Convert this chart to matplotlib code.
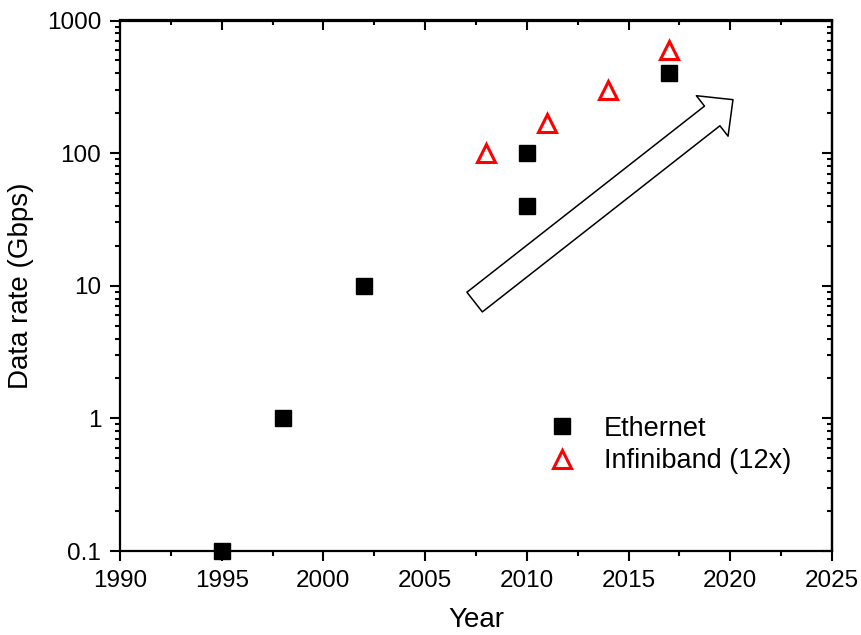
import matplotlib
matplotlib.use("Agg")
import matplotlib.pyplot as plt
from matplotlib.patches import FancyArrowPatch
from matplotlib.ticker import LogLocator, FixedLocator, NullFormatter, MultipleLocator

plt.rcParams['font.family'] = ['Liberation Sans', 'DejaVu Sans']

eth_years = [1995, 1998, 2002, 2010, 2010, 2017]
eth_rates = [0.1, 1, 10, 40, 100, 400]
ib_years = [2008, 2011, 2014, 2017]
ib_rates = [100, 168, 300, 600]
ytick_vals = [0.1, 1, 10, 100, 1000]
ytick_labels = ["0.1", "1", "10", "100", "1000"]
xtick_vals = [1990, 1995, 2000, 2005, 2010, 2015, 2020, 2025]

fig = plt.figure(figsize=(8.62, 6.35), dpi=100)
ax = fig.add_axes([120/862, 1-551/635, 712/862, 530.5/635])

ax.plot(eth_years, eth_rates, linestyle='none', marker='s', ms=11, color='black',
        label='Ethernet', clip_on=False, zorder=3)
ax.plot(ib_years, ib_rates, linestyle='none', marker='^', ms=13, mfc='none', mec='red',
        mew=2.2, label='Infiniband (12x)', clip_on=False, zorder=3)

ax.set_yscale('log')
ax.set_xlim(1990, 2025)
ax.set_ylim(0.1, 1000)
ax.set_xticks(xtick_vals)
ax.set_xticklabels([str(v) for v in xtick_vals])
ax.xaxis.set_minor_locator(MultipleLocator(2.5))
ax.yaxis.set_major_locator(FixedLocator(ytick_vals))
ax.set_yticklabels(ytick_labels)
ax.yaxis.set_minor_locator(LogLocator(base=10, subs=range(2, 10)))
ax.yaxis.set_minor_formatter(NullFormatter())

for s in ax.spines.values():
    s.set_linewidth(1.6)

ax.tick_params(axis='both', which='major', direction='out', length=7, width=1.5,
               labelsize=17.5, pad=6.5)
ax.tick_params(axis='both', which='minor', direction='out', length=3.6, width=1.5)
# mirrored ticks inward on top and right
axt = ax.secondary_xaxis('top')
axt.set_xticks(xtick_vals)
axt.xaxis.set_minor_locator(MultipleLocator(2.5))
axt.tick_params(axis='x', which='major', direction='in', length=7, width=1.5, labeltop=False)
axt.tick_params(axis='x', which='minor', direction='in', length=3.6, width=1.5)
axt.spines['top'].set_linewidth(1.6)
axr = ax.secondary_yaxis('right')
axr.yaxis.set_major_locator(FixedLocator(ytick_vals))
axr.yaxis.set_minor_locator(LogLocator(base=10, subs=range(2, 10)))
axr.yaxis.set_minor_formatter(NullFormatter())
axr.tick_params(axis='y', which='major', direction='in', length=7, width=1.5, labelright=False)
axr.tick_params(axis='y', which='minor', direction='in', length=3.6, width=1.5)
axr.spines['right'].set_linewidth(1.6)

ax.set_xlabel('Year', fontsize=20, labelpad=11)
ax.set_ylabel('Data rate (Gbps)', fontsize=20, labelpad=9)

arrow = FancyArrowPatch((0.495, 0.466), (0.864, 0.854), transform=ax.transAxes,
                        arrowstyle='simple,head_width=37,head_length=19,tail_width=18',
                        mutation_scale=1, facecolor='white', edgecolor='black',
                        linewidth=1.1, zorder=2)
ax.add_patch(arrow)

ax.legend(loc='upper left', bbox_to_anchor=(0.588, 0.275), frameon=False, fontsize=19.5,
          handlelength=0.9, handletextpad=1.1, labelspacing=0.24, borderaxespad=0)

fig.savefig('out.png', dpi=100)
